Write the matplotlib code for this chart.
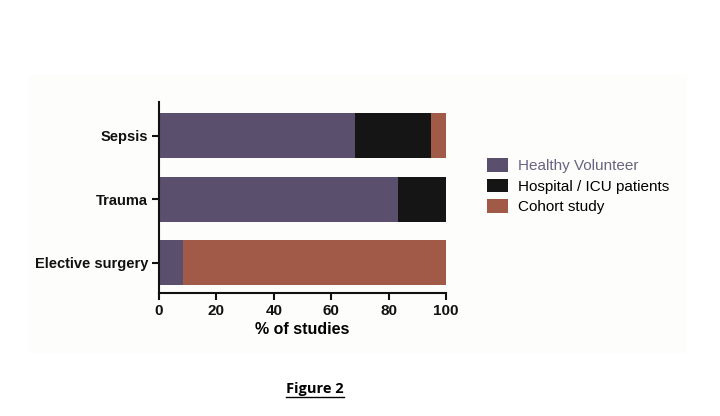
import matplotlib.pyplot as plt
import numpy as np
from matplotlib.patches import Rectangle, Patch
from matplotlib.lines import Line2D

plt.rcParams['font.family'] = ['Liberation Sans', 'DejaVu Sans']

groups = ['Elective surgery', 'Trauma', 'Sepsis']
healthy = [8.3, 83.3, 68.4]
hospital = [0.0, 16.7, 26.3]
cohort = [91.7, 0.0, 5.3]
series_names = ['Healthy Volunteer', 'Hospital / ICU patients', 'Cohort study']
colors = ['#5a4f6d', '#151515', '#a05a47']

fig = plt.figure(figsize=(7.2, 4.16), dpi=100)
fig.patches.append(Rectangle((28 / 720, 1 - 353 / 416), (687 - 28) / 720, (353 - 75) / 416,
                             transform=fig.transFigure, facecolor='#fdfdfb',
                             edgecolor='none', zorder=-10))

ax = fig.add_axes([159 / 720, 123 / 416, 287 / 720, 191 / 416])
ax.patch.set_alpha(0)

y = np.arange(len(groups))
left = np.zeros(len(groups))
for vals, name, c in zip([healthy, hospital, cohort], series_names, colors):
    ax.barh(y, vals, left=left, height=0.71, color=c, label=name)
    left = left + np.array(vals)

ax.set_xlim(0, 100)
ax.set_ylim(-0.48, 2.53)
ax.set_xticks([0, 20, 40, 60, 80, 100])
ax.set_yticks(y)
ax.set_yticklabels(groups)
for s in ['top', 'right']:
    ax.spines[s].set_visible(False)
for s in ['left', 'bottom']:
    ax.spines[s].set_linewidth(1.5)
    ax.spines[s].set_color('#111111')
ax.tick_params(direction='out', length=5, width=1.5, colors='#111111')
ax.tick_params(axis='y', labelsize=10.5, pad=3)
ax.tick_params(axis='x', labelsize=11, pad=3)
for lab in ax.get_xticklabels() + ax.get_yticklabels():
    lab.set_fontweight('bold')
ax.set_xlabel('% of studies', fontsize=11.5, fontweight='bold', labelpad=3)

handles = [Patch(facecolor=c, edgecolor='none') for c in colors]
leg = fig.legend(handles, series_names, loc='upper left', bbox_to_anchor=(481 / 720, 1 - 152 / 416),
                 frameon=False, fontsize=11, handlelength=1.4, handleheight=1.0,
                 handletextpad=0.6, labelspacing=0.35, borderaxespad=0)
leg.get_texts()[0].set_color('#6a6380')

t = fig.text(315 / 720, 1 - 389 / 416, 'Figure 2', ha='center', va='center',
             fontsize=10.5, fontweight='bold', family=['Open Sans', 'DejaVu Sans'])
fig.canvas.draw()
bb = t.get_window_extent().transformed(fig.transFigure.inverted())
fig.lines.append(Line2D([bb.x0, bb.x1], [bb.y0 - 0.003, bb.y0 - 0.003],
                        transform=fig.transFigure, color='black', linewidth=1))

fig.savefig('out.png', dpi=100, facecolor='white')
